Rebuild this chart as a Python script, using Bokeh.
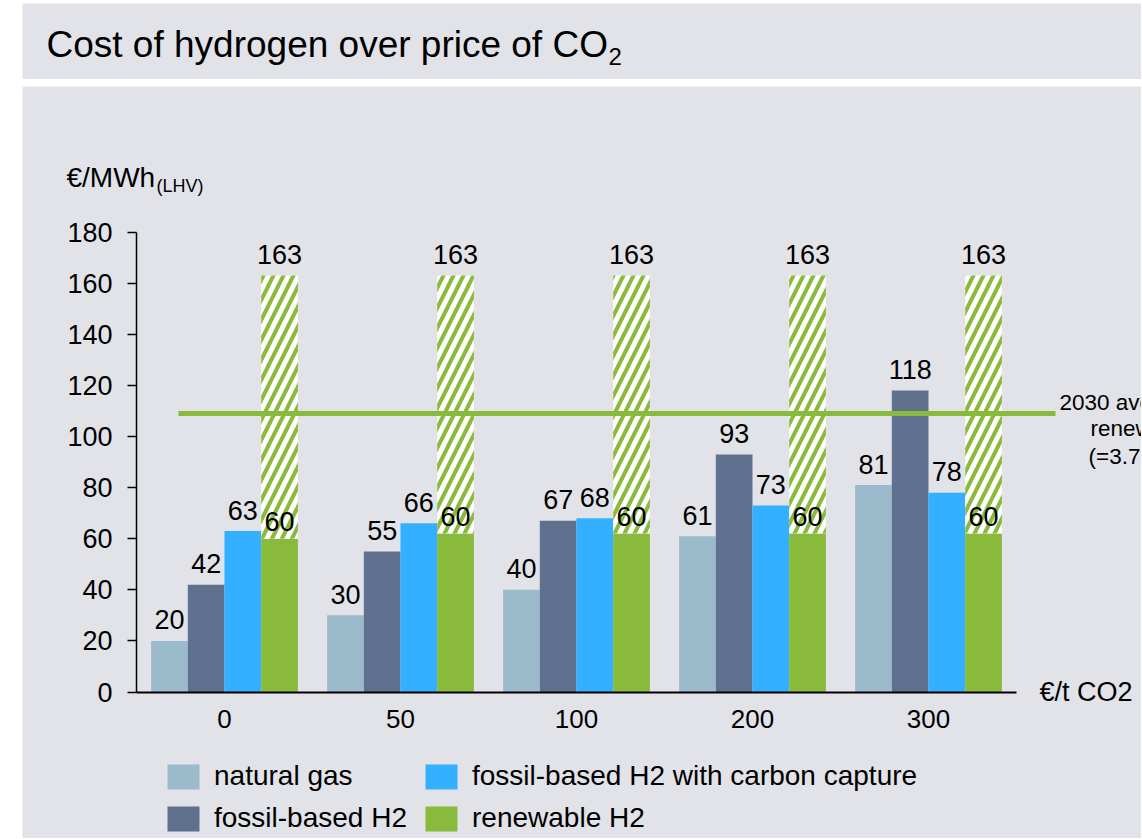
from bokeh.plotting import figure
from bokeh.layouts import column
from bokeh.models import Range1d, FixedTicker, Legend, LegendItem
from bokeh.embed import file_html
from bokeh.resources import INLINE
from bokeh.core.properties import value

# ---------------- data ----------------
co2_prices = ["0", "50", "100", "200", "300"]          # €/t CO2
natural_gas = [20, 30, 40, 61, 81]
fossil_h2 = [42, 55, 67, 93, 118]
fossil_h2_ccs = [63, 66, 68, 73, 78]
renewable_h2_low = [60, 62, 62, 62, 62]
renewable_h2_low_labels = ["60", "60", "60", "60", "60"]
renewable_h2_high = [163, 163, 163, 163, 163]
renewable_2030_avg = 109
series_names = ["natural gas", "fossil-based H2",
                "fossil-based H2 with carbon capture", "renewable H2"]
note_lines = ["2030 average cost of", "renewable H2", "(=3.7 €/kg H2)"]

# ---------------- style ----------------
BG = "#e2e3e8"
C_NG = "#9bbacb"
C_FOS = "#60718f"
C_CCS = "#33b0ff"
C_REN = "#8aba3c"
FONT = "Liberation Sans"

# ---------------- title panel ----------------
TW, TH = 1119, 76
tp = figure(width=TW, height=TH, x_range=Range1d(0, TW), y_range=Range1d(0, TH),
            toolbar_location=None, output_backend="svg", min_border=0,
            x_axis_type=None, y_axis_type=None, outline_line_color=None,
            background_fill_color=BG, border_fill_color=BG, margin=(3, 0, 0, 22))
tp.text(x=[24], y=[TH - 40.8], text=["Cost of hydrogen over price of CO"],
        text_font=value(FONT), text_font_size="37px", text_baseline="middle",
        text_color="black")
tp.text(x=[24 + 562], y=[TH - 53], text=["2"],
        text_font=value(FONT), text_font_size="24px", text_baseline="middle",
        text_color="black")

# ---------------- main chart ----------------
W, H = 1119, 752
PXU = 176.0          # px per category
PYU = 2.555          # px per €/MWh
X0PX = 114           # frame px of x=-0.5
Y0PX = 146.5         # px from bottom of y=0
x_start = -0.5 - X0PX / PXU
y_start = -Y0PX / PYU

p = figure(width=W, height=H,
           x_range=Range1d(x_start, x_start + W / PXU),
           y_range=Range1d(y_start, y_start + H / PYU),
           toolbar_location=None, output_backend="svg", min_border=0,
           outline_line_color=None, background_fill_color=BG, border_fill_color=BG,
           margin=(0, 0, 0, 22))
p.grid.visible = False

xa = p.xaxis[0]
xa.fixed_location = 0
xa.bounds = (-0.5, 4.5)
xa.ticker = FixedTicker(ticks=list(range(len(co2_prices))))
xa.major_label_overrides = {i: c for i, c in enumerate(co2_prices)}
xa.axis_line_width = 2
xa.axis_line_color = "black"
xa.major_tick_out = 0
xa.major_tick_in = 0
xa.minor_tick_out = 0
xa.minor_tick_in = 0
xa.major_label_standoff = 18
xa.major_label_text_font = FONT
xa.major_label_text_font_size = "26px"
xa.major_label_text_color = "black"

ya = p.yaxis[0]
ya.fixed_location = -0.5
ya.bounds = (0, 180)
ya.ticker = FixedTicker(ticks=list(range(0, 181, 20)))
ya.axis_line_width = 1.5
ya.axis_line_color = "black"
ya.major_tick_out = 9
ya.major_tick_in = 0
ya.major_tick_line_width = 1.5
ya.minor_tick_out = 0
ya.minor_tick_in = 0
ya.major_label_standoff = 15
ya.major_label_text_font = FONT
ya.major_label_text_font_size = "27px"
ya.major_label_text_color = "black"

bw = 0.2085
idx = list(range(len(co2_prices)))
def xs(k):
    return [i + (k - 1.5) * bw for i in idx]

r_ng = p.vbar(x=xs(0), top=natural_gas, width=bw, fill_color=C_NG, line_color=None)
r_fos = p.vbar(x=xs(1), top=fossil_h2, width=bw, fill_color=C_FOS, line_color=None)
r_ccs = p.vbar(x=xs(2), top=fossil_h2_ccs, width=bw, fill_color=C_CCS, line_color=None)
r_ren = p.vbar(x=xs(3), top=renewable_h2_low, width=bw, fill_color=C_REN, line_color=None)
p.vbar(x=xs(3), bottom=renewable_h2_low, top=renewable_h2_high, width=bw,
       fill_color="white", line_color=None, hatch_pattern="right_diagonal_line",
       hatch_color=C_REN, hatch_weight=4, hatch_scale=20)

# 2030 average reference line
line_x0 = (178 - 136) / PXU - 0.5
line_x1 = (1055 - 136) / PXU - 0.5
p.segment(x0=[line_x0], y0=[renewable_2030_avg], x1=[line_x1], y1=[renewable_2030_avg],
          line_color=C_REN, line_width=5)

lab_kw = dict(text_align="center", text_baseline="middle", y_offset=-21,
              text_font=value(FONT), text_font_size="27px", text_color="black")
p.text(x=xs(0), y=natural_gas, text=[str(v) for v in natural_gas], **lab_kw)
p.text(x=xs(1), y=fossil_h2, text=[str(v) for v in fossil_h2], **lab_kw)
p.text(x=xs(2), y=fossil_h2_ccs, text=[str(v) for v in fossil_h2_ccs], **lab_kw)
p.text(x=xs(3), y=renewable_h2_low, text=renewable_h2_low_labels,
       **dict(lab_kw, y_offset=-17))
p.text(x=xs(3), y=renewable_h2_high, text=[str(v) for v in renewable_h2_high], **lab_kw)

# unit labels
def dx(px):
    return (px - 136) / PXU - 0.5
def dy(py):
    return (691.5 - py) / PYU

txt_kw = dict(text_font=value(FONT), text_baseline="middle", text_color="black")
p.text(x=[dx(66)], y=[dy(177)], text=["€/MWh"], text_font_size="28px", **txt_kw)
p.text(x=[dx(156)], y=[dy(185)], text=["(LHV)"], text_font_size="18px", **txt_kw)
p.text(x=[dx(1039)], y=[dy(691)], text=["€/t CO2"], text_font_size="27px", **txt_kw)

# note at right (cut off by page edge as in the source)
p.text(x=[dx(1059), dx(1090), dx(1088)], y=[dy(401.5), dy(428), dy(456)],
       text=note_lines, text_font_size="22.5px", **txt_kw)

leg_kw = dict(orientation="vertical", padding=0, margin=0, spacing=10,
              border_line_color=None, background_fill_alpha=0,
              glyph_width=40, glyph_height=31, label_height=31, label_standoff=11,
              label_text_font=FONT, label_text_font_size="28px",
              label_text_color="black")
leg1 = Legend(items=[LegendItem(label=series_names[0], renderers=[r_ng]),
                     LegendItem(label=series_names[1], renderers=[r_fos])],
              location=(141, 4), **leg_kw)
leg2 = Legend(items=[LegendItem(label=series_names[2], renderers=[r_ccs]),
                     LegendItem(label=series_names[3], renderers=[r_ren])],
              location=(399, 4), **leg_kw)
p.add_layout(leg1)
p.add_layout(leg2)

layout = column(tp, p, spacing=7)
open("out.html", "w").write(file_html(layout, INLINE, title="Cost of hydrogen over price of CO2"))
